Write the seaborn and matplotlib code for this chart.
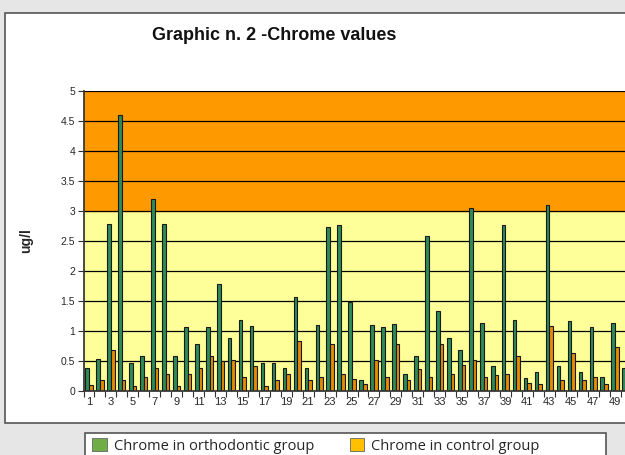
import numpy as np
import pandas as pd
import matplotlib
matplotlib.use('Agg')
import matplotlib.pyplot as plt
from matplotlib.patches import Rectangle, Patch
import seaborn as sns

# ==========================================
# DATA
# ==========================================
SAMPLES = [str(i) for i in range(1, 51)]
ORTHO = [0.38, 0.53, 2.79, 4.60, 0.47, 0.59, 3.20, 2.79, 0.59, 1.06,
         0.79, 1.06, 1.78, 0.89, 1.18, 1.08, 0.47, 0.47, 0.38, 1.57,
         0.38, 1.10, 2.73, 2.77, 1.49, 0.18, 1.10, 1.06, 1.12, 0.28,
         0.59, 2.59, 1.34, 0.89, 0.69, 3.05, 1.14, 0.41, 2.76, 1.18,
         0.21, 0.31, 3.10, 0.42, 1.17, 0.31, 1.06, 0.23, 1.14, 0.38]
CONTROL = [0.10, 0.18, 0.69, 0.18, 0.09, 0.23, 0.38, 0.28, 0.09, 0.28,
           0.38, 0.59, 0.50, 0.52, 0.23, 0.41, 0.09, 0.18, 0.28, 0.83,
           0.18, 0.23, 0.79, 0.28, 0.20, 0.11, 0.52, 0.23, 0.79, 0.18,
           0.36, 0.23, 0.79, 0.28, 0.43, 0.52, 0.23, 0.27, 0.28, 0.59,
           0.13, 0.11, 1.08, 0.18, 0.63, 0.18, 0.23, 0.11, 0.73, 0.10]
GROUPS = ['Chrome in orthodontic group', 'Chrome in control group']
Y_TICKS = [0, 0.5, 1, 1.5, 2, 2.5, 3, 3.5, 4, 4.5, 5]
Y_LABELS = ['0', '0.5', '1', '1.5', '2', '2.5', '3', '3.5', '4', '4.5', '5']

df = pd.DataFrame({
    'sample': SAMPLES * 2,
    'value': ORTHO + CONTROL,
    'group': [GROUPS[0]] * len(SAMPLES) + [GROUPS[1]] * len(SAMPLES),
})

BAR_COLORS = {GROUPS[0]: '#2E8B57', GROUPS[1]: '#E68A00'}
LEGEND_COLORS = ['#70AD47', '#FFC000']

sns.set_theme(style='white')
plt.rcParams['font.family'] = ['Liberation Sans', 'DejaVu Sans']

W, H = 625, 455
fig = plt.figure(figsize=(W / 100, H / 100), dpi=100, facecolor='#e6e6e6')

# chart frame and legend frame (pixel coords -> figure coords)
def box(x0, y0, x1, y1):
    return Rectangle((x0 / W, 1 - y1 / H), (x1 - x0) / W, (y1 - y0) / H,
                     transform=fig.transFigure, facecolor='white',
                     edgecolor='#555555', linewidth=1.2, zorder=-5)

fig.patches.append(box(5, 13, 640, 423))
fig.patches.append(box(85, 433, 606, 465))

ax = fig.add_axes([83.5 / W, 1 - 391 / H, 548 / W, 300 / H])
ax.set_zorder(1)

# background bands
ax.axhspan(0, 3, color='#FFFF99', zorder=0)
ax.axhspan(3, 5, color='#FF9900', zorder=0)
for y in Y_TICKS[1:]:
    ax.axhline(y, color='black', linewidth=0.9, zorder=1)

sns.barplot(data=df, x='sample', y='value', hue='group', order=SAMPLES,
            hue_order=GROUPS, palette=BAR_COLORS, width=0.66, dodge=True,
            edgecolor='#1a1a1a', linewidth=0.8, saturation=1, ax=ax,
            legend=False, zorder=2)

ax.set_xlim(-0.5, len(SAMPLES) - 0.5)
ax.set_ylim(0, 5)
ax.set_yticks(Y_TICKS)
ax.set_yticklabels(Y_LABELS, fontsize=7.5)
ax.set_xticks(range(0, len(SAMPLES), 2))
ax.set_xticklabels(SAMPLES[::2], fontsize=8)
ax.set_xticks(np.arange(-0.5, len(SAMPLES), 1), minor=True)
ax.tick_params(axis='x', which='major', length=0, pad=4)
ax.tick_params(axis='x', which='minor', length=4, width=0.8, color='#333333',
               direction='out', bottom=True)
ax.tick_params(axis='y', length=4, width=0.8, color='#333333', direction='out',
               left=True, pad=2)
ax.set_xlabel('')
ax.set_ylabel('ug/l', fontsize=10, fontweight='bold', labelpad=20)
ax.grid(False)
for side in ['top', 'right']:
    ax.spines[side].set_visible(False)
ax.spines['left'].set_color('#333333')
ax.spines['bottom'].set_color('#333333')

fig.text(274 / W, 1 - 35 / H, 'Graphic n. 2 -Chrome values', ha='center',
         va='center', fontsize=13, fontweight='bold', color='#111111')

handles = [Patch(facecolor=c, edgecolor='#666666', linewidth=0.6) for c in LEGEND_COLORS]
fig.legend(handles, GROUPS, loc='center', bbox_to_anchor=(316 / W, 1 - 446 / H),
           ncol=2, frameon=False, handlelength=1.0,
           handleheight=1.0, handletextpad=0.5, columnspacing=2.4,
           prop={'family': ['Open Sans', 'DejaVu Sans'], 'size': 10.5})

fig.savefig('out.png', dpi=100, facecolor=fig.get_facecolor())
